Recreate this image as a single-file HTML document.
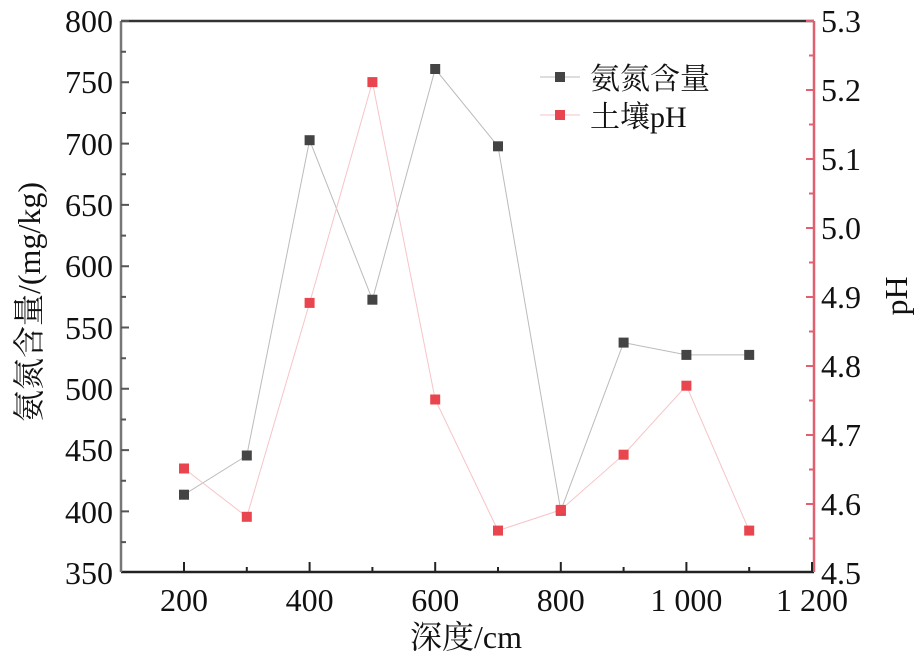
<!DOCTYPE html>
<html><head><meta charset="utf-8"><style>body{margin:0;background:#fff}svg{display:block}text{font-family:"Liberation Serif","Noto Serif CJK SC",serif;fill:#111}</style></head><body>
<svg width="917" height="659" xmlns="http://www.w3.org/2000/svg">
<g stroke-width="2.5" fill="none">
<line x1="121" y1="572" x2="814" y2="572" stroke="#222"/>
<line x1="121" y1="21" x2="814" y2="21" stroke="#333"/>
<line x1="121" y1="21" x2="121" y2="572" stroke="#777"/>
<line x1="814" y1="21" x2="814" y2="572" stroke="#e06070"/>
</g>
<g stroke="#555" stroke-width="2">
<path d="M121 21h8M121 82.3h8M121 143.6h8M121 204.9h8M121 266.2h8M121 327.5h8M121 388.8h8M121 450.1h8M121 511.4h8"/>
<path d="M121 51.7h5M121 113h5M121 174.3h5M121 235.6h5M121 296.9h5M121 358.2h5M121 419.5h5M121 480.8h5M121 542.1h5"/>
</g>
<g stroke="#222" stroke-width="2">
<path d="M184 572v-10M309.6 572v-10M435.2 572v-10M560.8 572v-10M686.4 572v-10M812 572v-10"/>
<path d="M246.8 572v-5M372.4 572v-5M498 572v-5M623.6 572v-5M749.2 572v-5"/>
</g>
<g stroke="#e06070" stroke-width="2">
<path d="M814 21h-8M814 90h-8M814 159h-8M814 228h-8M814 297h-8M814 366h-8M814 435h-8M814 504h-8"/>
<path d="M814 55.5h-5M814 124.5h-5M814 193.5h-5M814 262.5h-5M814 331.5h-5M814 400.5h-5M814 469.5h-5M814 538.5h-5"/>
</g>
<polyline fill="none" stroke="#bbb" stroke-width="1" points="184,494.7 246.8,455.5 309.6,140.2 372.4,299.7 435.2,69 498,146.3 560.8,510.7 623.6,342.6 686.4,354.9 749.2,354.9"/>
<polyline fill="none" stroke="#f6c4c8" stroke-width="1" points="184,468.5 246.8,516.8 309.6,302.9 372.4,82.1 435.2,399.5 498,530.6 560.8,509.9 623.6,454.7 686.4,385.7 749.2,530.6"/>
<g fill="#444">
<rect x="179" y="489.7" width="10" height="10"/><rect x="241.8" y="450.5" width="10" height="10"/><rect x="304.6" y="135.2" width="10" height="10"/><rect x="367.4" y="294.7" width="10" height="10"/><rect x="430.2" y="64" width="10" height="10"/><rect x="493" y="141.3" width="10" height="10"/><rect x="555.8" y="505.7" width="10" height="10"/><rect x="618.6" y="337.6" width="10" height="10"/><rect x="681.4" y="349.9" width="10" height="10"/><rect x="744.2" y="349.9" width="10" height="10"/>
</g>
<g fill="#e8454f">
<rect x="179" y="463.5" width="10" height="10"/><rect x="241.8" y="511.8" width="10" height="10"/><rect x="304.6" y="297.9" width="10" height="10"/><rect x="367.4" y="77.1" width="10" height="10"/><rect x="430.2" y="394.5" width="10" height="10"/><rect x="493" y="525.6" width="10" height="10"/><rect x="555.8" y="504.9" width="10" height="10"/><rect x="618.6" y="449.7" width="10" height="10"/><rect x="681.4" y="380.7" width="10" height="10"/><rect x="744.2" y="525.6" width="10" height="10"/>
</g>
<line x1="540" y1="77" x2="580" y2="77" stroke="#bbb"/><rect x="555" y="72" width="10" height="10" fill="#444"/>
<line x1="540" y1="115" x2="580" y2="115" stroke="#f6c4c8"/><rect x="555" y="110" width="10" height="10" fill="#e8454f"/>
<text x="590" y="89" font-size="30">氨氮含量</text>
<text x="590" y="127" font-size="30">土壤pH</text>
<g font-size="32" text-anchor="end">
<text x="113" y="32">800</text><text x="113" y="93">750</text><text x="113" y="155">700</text><text x="113" y="216">650</text><text x="113" y="277">600</text><text x="113" y="339">550</text><text x="113" y="400">500</text><text x="113" y="461">450</text><text x="113" y="523">400</text><text x="113" y="584">350</text>
</g>
<g font-size="32">
<text x="821" y="32">5.3</text><text x="821" y="101">5.2</text><text x="821" y="170">5.1</text><text x="821" y="239">5.0</text><text x="821" y="308">4.9</text><text x="821" y="377">4.8</text><text x="821" y="446">4.7</text><text x="821" y="515">4.6</text><text x="821" y="584">4.5</text>
</g>
<g font-size="32" text-anchor="middle">
<text x="184" y="611">200</text><text x="309.6" y="611">400</text><text x="435.2" y="611">600</text><text x="560.8" y="611">800</text><text x="686.4" y="611">1 000</text><text x="812" y="611">1 200</text>
<text x="466" y="648">深度/cm</text>
<text transform="translate(40,302) rotate(-90)">氨氮含量/(mg/kg)</text>
<text transform="translate(907,296) rotate(-90)">pH</text>
</g>
</svg>
</body></html>
